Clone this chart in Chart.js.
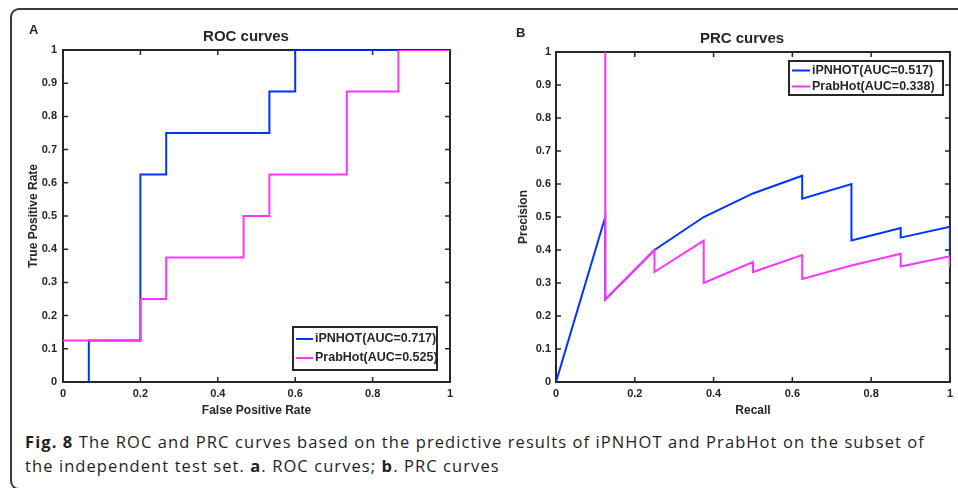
<!DOCTYPE html>
<html><head><meta charset="utf-8">
<script src="https://cdn.jsdelivr.net/npm/chart.js@4.4.1/dist/chart.umd.min.js"></script>
<style>
html,body{margin:0;padding:0;background:#fff;width:958px;height:488px;overflow:hidden;position:relative}
#frame{position:absolute;left:10px;top:8px;width:1000px;height:482px;box-sizing:border-box;border:2px solid #3a3a3a;border-radius:9px}
#c1{position:absolute;left:0;top:0}
#c2{position:absolute;left:480px;top:0}
#cap{position:absolute;left:25px;top:430px;font-family:"Open Sans","Noto Sans",sans-serif;font-size:16.5px;line-height:24px;color:#231f20;white-space:nowrap}
#cap b{font-weight:700}
</style></head><body>
<div id="frame"></div>
<canvas id="c1" width="480" height="420"></canvas>
<canvas id="c2" width="478" height="420"></canvas>
<div id="cap"><span id="l1"><b>Fig. 8</b> The ROC and PRC curves based on the predictive results of iPNHOT and PrabHot on the subset of</span><br><span id="l2">the independent test set. <b>a</b>. ROC curves; <b>b</b>. PRC curves</span></div>
<script>
// ---------- data ----------
const seriesNames = ['iPNHOT', 'PrabHot'];
const rocAUC = ['0.717', '0.525'];
const prcAUC = ['0.517', '0.338'];

const rocFprIPNHOT = [0.0667, 0.0667, 0.2, 0.2, 0.2667, 0.2667, 0.5333, 0.5333, 0.6, 0.6, 1];
const rocTprIPNHOT = [0, 0.125, 0.125, 0.625, 0.625, 0.75, 0.75, 0.875, 0.875, 1, 1];
const rocFprPrabHot = [0, 0.2, 0.2, 0.2667, 0.2667, 0.4667, 0.4667, 0.5333, 0.5333, 0.7333, 0.7333, 0.8667, 0.8667, 1];
const rocTprPrabHot = [0.125, 0.125, 0.25, 0.25, 0.375, 0.375, 0.5, 0.5, 0.625, 0.625, 0.875, 0.875, 1, 1];

const prcRecallIPNHOT = [0, 0.125, 0.125, 0.25, 0.375, 0.5, 0.625, 0.625, 0.75, 0.75, 0.875, 0.875, 1, 1];
const prcPrecIPNHOT = [0, 0.5, 0.25, 0.4, 0.5, 0.5714, 0.625, 0.5556, 0.6, 0.4286, 0.4667, 0.4375, 0.4706, 0.3478];
const prcRecallPrabHot = [0.125, 0.125, 0.25, 0.25, 0.375, 0.375, 0.5, 0.5, 0.625, 0.625, 0.75, 0.875, 0.875, 1, 1];
const prcPrecPrabHot = [1, 0.25, 0.4, 0.3333, 0.4286, 0.3, 0.3636, 0.3333, 0.3846, 0.3125, 0.3529, 0.3889, 0.35, 0.381, 0.3478];

const xTicks = [0, 0.2, 0.4, 0.6, 0.8, 1];
const xTickLabels = ['0', '0.2', '0.4', '0.6', '0.8', '1'];
const yTicks = [0, 0.1, 0.2, 0.3, 0.4, 0.5, 0.6, 0.7, 0.8, 0.9, 1];
const yTickLabels = ['0', '0.1', '0.2', '0.3', '0.4', '0.5', '0.6', '0.7', '0.8', '0.9', '1'];

// ---------- styles ----------
const FONT = '"Liberation Sans", Arial, Helvetica, sans-serif';
const INK = '#262626';
const BLUE = '#0033ff';
const MAGENTA = '#ff33ff';

function pts(xs, ys) { return xs.map((x, i) => ({ x: x, y: ys[i] })); }

function decorPlugin(o) {
  return {
    id: 'decor',
    beforeDatasetsDraw(chart) {
      const ctx = chart.ctx, a = chart.chartArea;
      const xs = chart.scales.x, ys = chart.scales.y;
      ctx.save();
      ctx.strokeStyle = INK;
      ctx.lineWidth = 2;
      ctx.strokeRect(a.left, a.top, a.right - a.left, a.bottom - a.top);
      ctx.lineWidth = 1.5;
      const tl = 5;
      ctx.beginPath();
      xTicks.forEach(v => {
        const p = xs.getPixelForValue(v);
        ctx.moveTo(p, a.bottom); ctx.lineTo(p, a.bottom - tl);
        ctx.moveTo(p, a.top); ctx.lineTo(p, a.top + tl);
      });
      yTicks.forEach(v => {
        const p = ys.getPixelForValue(v);
        ctx.moveTo(a.left, p); ctx.lineTo(a.left + tl, p);
        ctx.moveTo(a.right, p); ctx.lineTo(a.right - tl, p);
      });
      ctx.stroke();
      ctx.restore();
    },
    afterDraw(chart) {
      const ctx = chart.ctx;
      ctx.save();
      ctx.fillStyle = INK;
      ctx.textBaseline = 'middle';
      ctx.font = 'bold 15px ' + FONT;
      ctx.textAlign = 'center';
      ctx.fillText(o.title, o.titleX, o.titleY);
      ctx.font = 'bold 13px ' + FONT;
      ctx.textAlign = 'left';
      ctx.fillText(o.letter, o.letterX, o.letterY);
      const L = o.legend;
      ctx.fillStyle = '#fff';
      ctx.fillRect(L.x, L.y, L.w, L.h);
      ctx.strokeStyle = INK;
      ctx.lineWidth = 2;
      ctx.strokeRect(L.x, L.y, L.w, L.h);
      ctx.font = 'bold 12.5px ' + FONT;
      chart.data.datasets.slice().sort((p, q) => p.legendIndex - q.legendIndex).forEach((ds, i) => {
        const yy = L.rows[i];
        ctx.strokeStyle = ds.borderColor;
        ctx.lineWidth = 2;
        ctx.beginPath();
        ctx.moveTo(L.sx0, yy); ctx.lineTo(L.sx1, yy);
        ctx.stroke();
        ctx.fillStyle = INK;
        ctx.fillText(ds.label, L.tx, yy);
      });
      ctx.restore();
    }
  };
}

function makeChart(id, cfg) {
  const tickFont = { family: FONT, size: 11, weight: 'bold' };
  const titleFont = { family: FONT, size: 12, weight: 'bold' };
  return new Chart(document.getElementById(id), {
    type: 'scatter',
    data: {
      datasets: [
        { label: seriesNames[0] + '(AUC=' + cfg.auc[0] + ')', data: cfg.d0, borderColor: BLUE, backgroundColor: BLUE,
          showLine: true, pointRadius: 0, borderWidth: 2, order: 2, legendIndex: 0, tension: 0 },
        { label: seriesNames[1] + '(AUC=' + cfg.auc[1] + ')', data: cfg.d1, borderColor: MAGENTA, backgroundColor: MAGENTA,
          showLine: true, pointRadius: 0, borderWidth: 2, order: 1, legendIndex: 1, tension: 0 }
      ]
    },
    options: {
      responsive: false, animation: false, devicePixelRatio: 1,
      layout: { padding: cfg.padding },
      plugins: { legend: { display: false }, title: { display: false }, tooltip: { enabled: false } },
      scales: {
        x: {
          type: 'linear', min: 0, max: 1,
          afterBuildTicks: s => { s.ticks = xTicks.map(v => ({ value: v })); },
          afterFit: s => { s.height = 38; },
          grid: { display: false, drawTicks: false }, border: { display: false },
          ticks: { font: tickFont, color: INK, padding: 5, maxRotation: 0, autoSkip: false,
                   callback: (v, i) => xTickLabels[i] },
          title: { display: true, text: cfg.xTitle, font: titleFont, color: INK, padding: { top: 0, bottom: 2 } }
        },
        y: {
          type: 'linear', min: 0, max: 1,
          afterBuildTicks: s => { s.ticks = yTicks.map(v => ({ value: v })); },
          afterFit: s => { s.width = cfg.yWidth; },
          grid: { display: false, drawTicks: false }, border: { display: false },
          ticks: { font: tickFont, color: INK, padding: cfg.yPad, autoSkip: false,
                   callback: (v, i) => yTickLabels[i] },
          title: { display: true, text: cfg.yTitle, font: titleFont, color: INK, padding: { top: cfg.yTitlePad, bottom: 0 } }
        }
      }
    },
    plugins: [decorPlugin(cfg.decor)]
  });
}

makeChart('c1', {
  auc: rocAUC,
  d0: pts(rocFprIPNHOT, rocTprIPNHOT),
  d1: pts(rocFprPrabHot, rocTprPrabHot),
  padding: { left: 20, right: 30, top: 50, bottom: 0 },
  yWidth: 43, yPad: 6, yTitlePad: 6,
  xTitle: 'False Positive Rate', yTitle: 'True Positive Rate',
  decor: {
    title: 'ROC curves', titleX: 246, titleY: 37,
    letter: 'A', letterX: 29, letterY: 30,
    legend: { x: 293, y: 327, w: 144, h: 43, rows: [339, 358], sx0: 296, sx1: 313, tx: 315 }
  }
});

makeChart('c2', {
  auc: prcAUC,
  d0: pts(prcRecallIPNHOT, prcPrecIPNHOT),
  d1: pts(prcRecallPrabHot, prcPrecPrabHot),
  padding: { left: 30, right: 8, top: 52, bottom: 0 },
  yWidth: 46, yPad: 5, yTitlePad: 6,
  xTitle: 'Recall', yTitle: 'Precision',
  decor: {
    title: 'PRC curves', titleX: 262, titleY: 38.5,
    letter: 'B', letterX: 36, letterY: 33.5,
    legend: { x: 309, y: 61, w: 154, h: 34, rows: [70.5, 86.5], sx0: 312, sx1: 330, tx: 332 }
  }
});

// fit caption line 1 to the reference width (x 25 to 925)
function fitCaption() {
  const cap = document.getElementById('cap');
  const l1 = document.getElementById('l1');
  cap.style.letterSpacing = '0px';
  const w = l1.getBoundingClientRect().width;
  const n = l1.textContent.length;
  cap.style.letterSpacing = ((900 - w) / n) + 'px';
}
fitCaption();
if (document.fonts && document.fonts.ready) document.fonts.ready.then(fitCaption);
</script>
</body></html>
